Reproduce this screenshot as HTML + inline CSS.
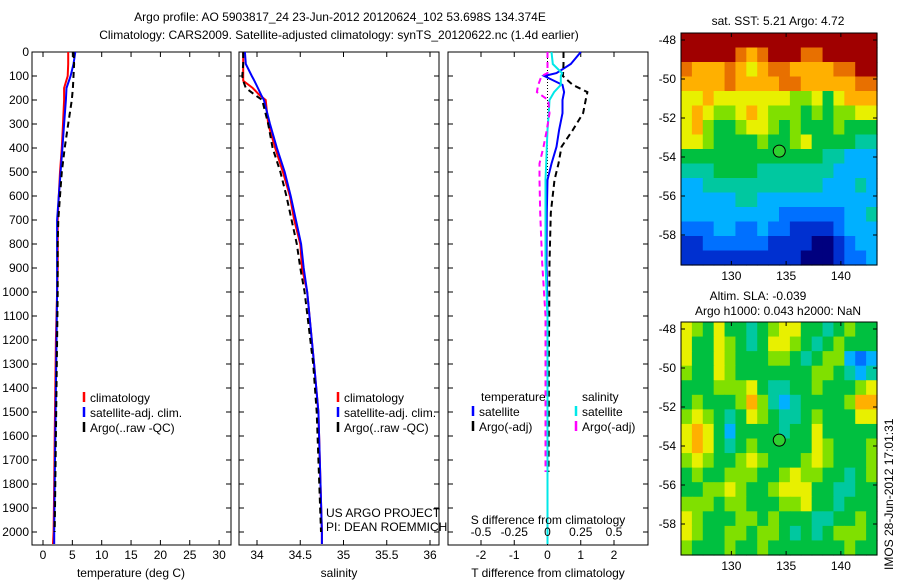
<!DOCTYPE html>
<html><head><meta charset="utf-8"><style>
body{margin:0;background:#fff;width:900px;height:580px;overflow:hidden}
svg text{font-family:"Liberation Sans",sans-serif;font-size:12px;fill:#000}
</style></head><body>
<svg id="fig" width="900" height="580" xmlns="http://www.w3.org/2000/svg">
<text x="340" y="21" text-anchor="middle">Argo profile: AO 5903817_24 23-Jun-2012 20120624_102 53.698S 134.374E</text>
<text x="339" y="39" text-anchor="middle">Climatology: CARS2009. Satellite-adjusted climatology: synTS_20120622.nc (1.4d earlier)</text>
<g id="g"></g>
</svg>
<script>
// ---- data ----
const depthT=[0,50,100,150,200,300,400,500,600,700,800,900,1000,1200,1400,1600,1800,2000,2050];
const tClim=[4.3,4.3,4.2,3.6,3.6,3.4,3.2,2.9,2.7,2.5,2.5,2.5,2.4,2.2,2.1,2.0,1.9,1.8,1.7];
const tSat=[5.5,5.2,4.7,4.0,3.9,3.6,3.3,3.0,2.7,2.4,2.4,2.4,2.4,2.3,2.2,2.1,2.0,1.9,1.9];
const tArgo=[5.2,5.3,5.2,5.1,4.9,4.3,3.7,3.2,2.9,2.6,2.5,2.5,2.5,2.4,2.3,2.2,2.1,2.0];
const depthS=[0,50,100,120,150,180,200,300,400,500,600,700,800,900,1000,1300,1500,2000,2050];
const sClim=[33.84,33.84,33.84,33.84,33.95,34.03,34.10,34.13,34.21,34.30,34.38,34.43,34.50,34.52,34.58,34.66,34.71,34.75,34.75];
const sSat=[33.86,33.87,33.94,33.97,34.01,34.05,34.08,34.15,34.23,34.32,34.39,34.45,34.51,34.54,34.58,34.66,34.71,34.75,34.75];
const sArgo=[33.84,33.84,33.83,33.84,33.87,33.98,34.06,34.13,34.18,34.27,34.34,34.40,34.46,34.50,34.55,34.65,34.69,34.74];
const depthD=[0,50,88,100,137,167,200,255,325,395,465,533,670,880,1100,1300,1500,1750,2000,2050];
const dTSat=[1.0,0.7,0.27,-0.1,0.45,0.5,0.45,0.45,0.35,0.27,0.12,0.0,-0.02,-0.03,0,0,0,0,0,0];
const dTArgo=[0.48,0.48,0.47,0.46,0.76,1.2,1.15,1.07,0.76,0.42,0.33,0.21,0.1,0.06,0.05,0.04,0.04,0.03];
const dSSat=[0.03,0.04,0.11,0.1,0.1,0.05,0.015,0.01,0.0,-0.005,-0.01,-0.015,-0.015,-0.015,0,0,0,0,0,0];
const dSArgo=[0,0,0,-0.045,-0.07,-0.08,0.005,0.015,-0.005,-0.03,-0.06,-0.06,-0.055,-0.04,-0.015,-0.015,-0.015,-0.015];
const depthTicks=[0,100,200,300,400,500,600,700,800,900,1000,1100,1200,1300,1400,1500,1600,1700,1800,1900,2000];
const tTicks=[0,5,10,15,20,25,30];
const sTicks=[34,34.5,35,35.5,36];
const dTTicks=[-2,-1,0,1,2];
const dSTicks=["-0.5","-0.25","0","0.25","0.5"];
const lonTicks=[130,135,140];
const latTicks=[-48,-50,-52,-54,-56,-58];
const sstGrid=[
[10,10,10,10,10,10,10,10,10,10,10,10,10,10,10,10,10,10],
[10,10,10,10,10,9,8,9,10,10,10,9,9,10,10,10,10,10],
[9,8,8,8,9,8,7,8,9,9,8,8,8,8,9,9,10,10],
[8,8,8,8,9,8,8,8,8,9,9,8,8,8,8,8,9,9],
[7,7,8,7,7,7,7,7,7,7,6,6,7,5,7,8,8,8],
[7,8,7,6,6,7,8,7,6,6,6,5,6,5,6,6,7,7],
[7,8,6,5,5,6,7,7,6,5,6,5,5,5,6,5,5,5],
[7,7,6,5,5,5,5,6,5,5,6,7,5,5,5,5,4,4],
[5,5,5,5,5,5,5,5,5,5,5,5,5,4,4,3,3,3],
[4,4,4,5,5,5,5,4,4,4,4,4,4,4,3,3,3,3],
[3,3,4,4,4,4,4,4,4,4,4,4,4,3,3,3,4,3],
[3,3,3,3,3,4,4,3,3,3,3,3,3,3,3,3,3,3],
[3,3,3,3,3,3,3,3,3,2,2,2,2,2,2,3,3,4],
[2,2,2,3,3,2,2,3,2,2,1,1,1,1,2,3,3,3],
[1,1,2,2,2,2,2,2,1,1,1,1,0,0,1,2,3,3],
[1,1,1,1,1,1,1,1,1,1,1,0,0,0,1,2,2,3]];
const slaGrid=[
[7,6,5,7,5,5,4,5,6,7,7,5,5,4,5,6,5,5],
[7,5,5,7,6,5,4,5,7,7,6,5,4,5,6,5,5,5],
[7,5,5,7,6,5,5,5,6,6,5,4,5,6,6,3,2,3],
[6,5,5,7,6,5,5,5,5,5,5,5,6,6,5,4,3,4],
[5,5,5,6,6,6,7,5,4,4,5,5,6,5,5,5,6,7],
[5,6,5,5,5,6,8,6,4,3,4,5,5,5,5,6,8,8],
[6,7,6,5,4,5,7,6,5,4,4,5,6,5,5,5,7,7],
[7,8,7,5,3,5,5,5,5,4,5,5,7,5,5,5,5,5],
[7,8,7,5,4,5,6,5,5,5,5,5,7,6,5,5,5,6],
[6,7,6,5,5,6,7,6,5,5,5,6,7,6,5,5,5,6],
[5,6,5,5,6,6,6,5,5,6,7,6,6,5,5,4,5,6],
[5,5,6,6,7,6,5,5,6,7,7,7,5,5,4,4,5,5],
[6,6,6,5,6,6,5,5,5,6,6,7,5,5,4,5,5,5],
[7,6,5,5,5,6,6,5,6,5,5,5,4,4,5,5,6,5],
[7,6,5,5,6,6,5,6,6,5,4,5,4,5,6,6,6,5],
[6,5,5,5,6,5,5,6,5,5,5,5,5,5,5,6,5,5]];
const argoLon=[134.374];
const argoLat=[-53.698];
const palette=["#00007f","#0030d0","#0070ff","#00b0ff","#00c8a0","#00c040","#80e000","#e8f000","#ffb000","#e87000","#a00000"];

const NS="http://www.w3.org/2000/svg";
const G=document.getElementById('g');
function mk(tag,at,parent){const e=document.createElementNS(NS,tag);for(const k in at)e.setAttribute(k,at[k]);(parent||G).appendChild(e);return e;}
function txt(x,y,s,anchor){const e=mk('text',{x:x,y:y,'text-anchor':anchor||'start'});e.textContent=s;return e;}
const Y0=52,Y1=545;
const yD=d=>52+d*0.24;
const xT=t=>43+t*5.87;
const xS=s=>257+(s-34)*86.5;
const xDT=v=>547.5+v*33.25;
const xDS=v=>547.5+v*133;

function panel(x0,x1,name,leftLabels){
  const r=mk('rect',{x:x0,y:Y0,width:x1-x0,height:Y1-Y0,fill:'none',stroke:'#000','stroke-width':1});
  
  
  depthTicks.forEach(d=>{
    const y=yD(d);
    mk('line',{x1:x0,x2:x0+5,y1:y,y2:y,stroke:'#000'});
    mk('line',{x1:x1-5,x2:x1,y1:y,y2:y,stroke:'#000'});
    if(leftLabels){const t=txt(x0-3,y+4,String(d),'end');
      
      }
  });
}
function line(xs,ds,fx,color,name,dash,w){
  const pts=xs.map((v,i)=>fx(v).toFixed(1)+','+yD(ds[i]).toFixed(1)).join(' ');
  const p=mk('polyline',{points:pts,fill:'none',stroke:color,'stroke-width':w||2});
  if(dash)p.setAttribute('stroke-dasharray',dash);
  
  
}
function xticks(vals,labels,fx,x0,x1,yl){
  vals.forEach((v,i)=>{const x=fx(v);
    mk('line',{x1:x,x2:x,y1:Y1,y2:Y1-5,stroke:'#000'});
    mk('line',{x1:x,x2:x,y1:Y0,y2:Y0+5,stroke:'#000'});
    const t=txt(x,yl,labels[i],'middle');
    
    });
}
function legend(x,y,items){
  items.forEach((it,i)=>{
    mk('line',{x1:x,x2:x,y1:y+i*15-10,y2:y+i*15,stroke:it[0],'stroke-width':2.5});
    const t=txt(x+6,y+i*15,it[1]);
    
    
  });
}
// panel 1
panel(32,231,'temperature-panel',true);
xticks(tTicks,tTicks.map(String),xT,32,231,559);
line(tClim,depthT,xT,'#ff0000','temp-climatology-line');
line(tSat,depthT,xT,'#0000ff','temp-satellite-line');
line(tArgo,depthT,xT,'#000','temp-argo-line','6,4');
txt(131,577,'temperature (deg C)','middle');
legend(84,402,[['#ff0000','climatology'],['#0000ff','satellite-adj. clim.'],['#000','Argo(..raw -QC)']]);
// panel 2
panel(239,439,'salinity-panel',false);
xticks(sTicks,sTicks.map(String),xS,239,439,559);
line(sClim,depthS,xS,'#ff0000','sal-climatology-line');
line(sSat,depthS,xS,'#0000ff','sal-satellite-line');
line(sArgo,depthS,xS,'#000','sal-argo-line','6,4');
txt(339,577,'salinity','middle');
legend(338,402,[['#ff0000','climatology'],['#0000ff','satellite-adj. clim.'],['#000','Argo(..raw -QC)']]);
txt(326,517,'US ARGO PROJECT');
txt(326,531,'PI: DEAN ROEMMICH');
// panel 3
panel(448,648,'difference-panel',false);
xticks(dTTicks,dTTicks.map(String),xDT,448,648,559);
mk('line',{x1:547.5,x2:547.5,y1:52,y2:180,stroke:'#000','stroke-dasharray':'1,2'});
line(dTSat,depthD,xDT,'#0000ff','tdiff-satellite-line');
line(dTArgo,depthD,xDT,'#000','tdiff-argo-line','6,4');
line(dSSat,depthD,xDS,'#00e8e8','sdiff-satellite-line');
line(dSArgo,depthD,xDS,'#ff00ff','sdiff-argo-line','6,4');
dSTicks.forEach(s=>{const t=txt(xDS(parseFloat(s)),536,s,'middle');
  
  });
txt(548,524,'S difference from climatology','middle');
txt(548,577,'T difference from climatology','middle');
txt(481,401,'temperature');
txt(582,401,'salinity');
legend(473,416,[['#0000ff','satellite'],['#000','Argo(-adj)']]);
legend(576,416,[['#00e8e8','satellite'],['#ff00ff','Argo(-adj)']]);
// maps
const lonL=125.4,lonR=143.3,MX0=681,MX1=877;
const xL=l=>MX0+(l-lonL)*(MX1-MX0)/(lonR-lonL);
function map(grid,top,bot,lat48,name){
  const rows=grid.length,cols=grid[0].length,cw=(MX1-MX0)/cols,ch=(bot-top)/rows;
  const yLat=l=>lat48+(-48-l)*19.5;
  grid.forEach((row,r)=>row.forEach((v,c)=>{
    const e=mk('rect',{x:MX0+c*cw,y:top+r*ch,width:cw+0.6,height:ch+0.6,fill:palette[v]});
    
    
  }));
  const b=mk('rect',{x:MX0,y:top,width:MX1-MX0,height:bot-top,fill:'none',stroke:'#000'});
  
  
  latTicks.forEach(l=>{const y=yLat(l);
    mk('line',{x1:MX0,x2:MX0+4,y1:y,y2:y,stroke:'#000'});mk('line',{x1:MX1-4,x2:MX1,y1:y,y2:y,stroke:'#000'});
    const t=txt(MX0-5,y+4,String(l),'end');
    
    });
  lonTicks.forEach(l=>{const x=xL(l);
    mk('line',{x1:x,x2:x,y1:bot,y2:bot-4,stroke:'#000'});mk('line',{x1:x,x2:x,y1:top,y2:top+4,stroke:'#000'});
    const t=txt(x,bot+15,String(l),'middle');
    
    });
  const c=mk('circle',{cx:xL(argoLon[0]),cy:yLat(argoLat[0]),r:6,fill:'#30d030',stroke:'#000'});
  
  
}
map(sstGrid,33,265,40,'sst-map');
map(slaGrid,322,555,329,'sla-map');
txt(778,25,'sat. SST: 5.21 Argo: 4.72','middle');
txt(758,300,'Altim. SLA: -0.039','middle');
txt(778,315,'Argo h1000: 0.043 h2000: NaN','middle');
const st=txt(0,0,'IMOS 28-Jun-2012 17:01:31');
st.setAttribute('transform','translate(893,570) rotate(-90)');


</script>
</body></html>
